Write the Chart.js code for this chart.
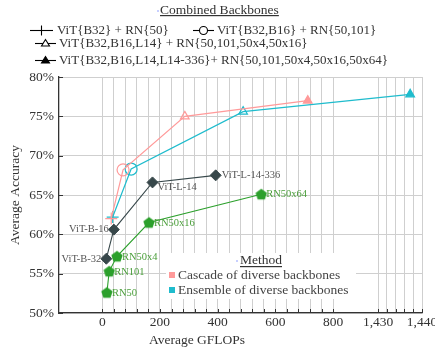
<!DOCTYPE html>
<html lang="en">
<head>
<meta charset="UTF-8">
<title>Combined Backbones</title>
<script src="https://cdn.jsdelivr.net/npm/chart.js"></script>
<style>
  html, body { margin: 0; padding: 0; background: #fff; }
  canvas { display: block; }
</style>
</head>
<body>
<canvas id="chart" width="435" height="347"></canvas>
<script>
// Individual backbones
const vitNames = ['ViT-B-32', 'ViT-B-16', 'ViT-L-14', 'ViT-L-14-336'];
const vitGflops = [14, 40, 174, 393];
const vitAcc = [56.9, 60.6, 66.6, 67.5];

const rnNames = ['RN50', 'RN101', 'RN50x4', 'RN50x16', 'RN50x64'];
const rnGflops = [16, 24, 51, 162, 551];
const rnAcc = [52.6, 55.3, 57.2, 61.5, 65.1];

// Combined backbones
const comboNames = [
  'ViT{B32} + RN{50}',
  'ViT{B32,B16} + RN{50,101}',
  'ViT{B32,B16,L14} + RN{50,101,50x4,50x16}',
  'ViT{B32,B16,L14,L14-336}+ RN{50,101,50x4,50x16,50x64}'
];
const cascadeGflops = [31, 72, 286, 712];
const cascadeAcc = [62.0, 68.2, 75.0, 77.0];
const ensembleGflops = [36, 100, 488, 1437.3];
const ensembleAcc = [62.2, 68.3, 75.6, 77.8];

// axis ticks (real GFLOPs); axis is broken between 800 and 1430
const xTickLabels = [0, 200, 400, 600, 800, 1430, 1440];
const yTicks = [50, 55, 60, 65, 70, 75, 80];

const BREAK_LO = 800, BREAK_HI = 1430, BREAK_POS = 956, STRETCH = 15.2;
function toAxis(x) { return x <= BREAK_LO ? x : BREAK_POS + (x - BREAK_HI) * STRETCH; }

const xGrid = [];
for (let g = 0; g <= 800; g += 40) xGrid.push(toAxis(g));
for (let g = 1430; g <= 1440; g += 2) xGrid.push(toAxis(g));

const pink = '#ff9a9a';
const cyan = '#1fbccd';
const dark = '#37474a';
const green = '#2ca02c';
const serif = '"Liberation Serif", "DejaVu Serif", serif';

function pentagon(r, color) {
  const c = document.createElement('canvas');
  c.width = c.height = r * 2 + 2;
  const g = c.getContext('2d');
  g.beginPath();
  for (let i = 0; i < 5; i++) {
    const a = -Math.PI / 2 + i * 2 * Math.PI / 5;
    const px = r + 1 + r * Math.cos(a), py = r + 1 + r * Math.sin(a) + 0.5;
    i ? g.lineTo(px, py) : g.moveTo(px, py);
  }
  g.closePath();
  g.fillStyle = color;
  g.fill();
  return c;
}
const pent = pentagon(6, green);

const pts = (xs, ys) => xs.map((x, i) => ({ x: toAxis(x), y: ys[i] }));
const comboStyles = ['cross', 'circle', 'triangle', 'triangle'];

const overlay = {
  id: 'overlay',
  afterDraw(chart) {
    const ctx = chart.ctx;
    const xs = chart.scales.x, ys = chart.scales.y;
    const area = chart.chartArea;
    ctx.save();

    // inner tick marks
    ctx.strokeStyle = '#333';
    ctx.lineWidth = 1;
    ctx.beginPath();
    xGrid.forEach(v => {
      const px = Math.round(xs.getPixelForValue(v)) + 0.5;
      ctx.moveTo(px, area.bottom); ctx.lineTo(px, area.bottom - 4);
    });
    yTicks.forEach(v => {
      const py = Math.round(ys.getPixelForValue(v)) + 0.5;
      ctx.moveTo(area.left, py); ctx.lineTo(area.left + 4, py);
    });
    ctx.stroke();

    // x tick labels
    ctx.fillStyle = '#333';
    ctx.font = '13.5px ' + serif;
    ctx.textAlign = 'center';
    ctx.textBaseline = 'middle';
    xTickLabels.forEach(v => {
      ctx.fillText(v.toLocaleString('en-US'), xs.getPixelForValue(toAxis(v)), area.bottom + 9);
    });
    ctx.fillText('Average GFLOPs', 197, 340);

    // point labels
    ctx.font = '10.5px ' + serif;
    ctx.fillStyle = '#555';
    const vitOff = [[-5, 1, 'right'], [-5, 0, 'right'], [5, 5, 'left'], [6, 0, 'left']];
    vitNames.forEach((n, i) => {
      ctx.textAlign = vitOff[i][2];
      ctx.fillText(n, xs.getPixelForValue(toAxis(vitGflops[i])) + vitOff[i][0], ys.getPixelForValue(vitAcc[i]) + vitOff[i][1]);
    });
    ctx.fillStyle = '#4a9e3a';
    ctx.textAlign = 'left';
    rnNames.forEach((n, i) => {
      ctx.fillText(n, xs.getPixelForValue(toAxis(rnGflops[i])) + 5, ys.getPixelForValue(rnAcc[i]) + 0.5);
    });

    // method legend
    ctx.fillStyle = '#fff';
    ctx.fillRect(166, 253, 190, 46);
    ctx.font = '13.5px ' + serif;
    ctx.fillStyle = '#333';
    ctx.textAlign = 'left';
    ctx.fillText('Method', 240, 260);
    let w = ctx.measureText('Method').width;
    ctx.fillRect(240, 266, w, 1.2);
    ctx.fillStyle = '#2040ff';
    ctx.fillRect(236.5, 260.5, 1, 1);
    [['Cascade of diverse backbones', pink, 275], ['Ensemble of diverse backbones', cyan, 290]].forEach(([t, c, y]) => {
      ctx.fillStyle = c;
      ctx.fillRect(169, y - 3, 6, 6);
      ctx.fillStyle = '#444';
      ctx.fillText(t, 178, y);
    });

    // combined backbones legend
    ctx.fillStyle = '#333';
    ctx.fillText('Combined Backbones', 160, 10);
    w = ctx.measureText('Combined Backbones').width;
    ctx.fillRect(160, 15, w, 1.2);
    ctx.fillStyle = '#2040ff';
    ctx.fillRect(157.5, 10.5, 1, 1);

    ctx.font = '13px ' + serif;
    const entries = [
      [30, 53, 30, 57],
      [193, 214, 30, 217],
      [35, 56, 43, 59],
      [35, 56, 60, 59]
    ];
    entries.forEach(([x0, x1, y, tx], i) => {
      ctx.strokeStyle = '#000';
      ctx.fillStyle = '#000';
      ctx.lineWidth = 1.1;
      ctx.beginPath();
      ctx.moveTo(x0, y + 0.5); ctx.lineTo(x1, y + 0.5);
      ctx.stroke();
      const cx = (x0 + x1) / 2;
      ctx.beginPath();
      if (i === 0) {
        ctx.moveTo(cx, y - 4.5); ctx.lineTo(cx, y + 5.5);
        ctx.stroke();
      } else if (i === 1) {
        ctx.fillStyle = '#fff';
        ctx.arc(cx, y + 0.5, 4, 0, Math.PI * 2);
        ctx.fill(); ctx.stroke();
      } else {
        ctx.moveTo(cx, y - 3.5); ctx.lineTo(cx + 4, y + 3); ctx.lineTo(cx - 4, y + 3); ctx.closePath();
        if (i === 2) { ctx.fillStyle = '#fff'; ctx.fill(); ctx.stroke(); }
        else { ctx.fill(); ctx.stroke(); }
      }
      ctx.fillStyle = '#333';
      ctx.fillText(comboNames[i], tx, y + 1);
    });
    ctx.restore();
  }
};

new Chart(document.getElementById('chart'), {
  type: 'scatter',
  data: {
    datasets: [
      {
        label: 'ViT',
        data: pts(vitGflops, vitAcc),
        showLine: true,
        borderColor: dark, backgroundColor: dark, borderWidth: 1.1,
        pointStyle: 'rectRot', pointRadius: 5.5, pointBorderWidth: 1,
        order: 4
      },
      {
        label: 'RN',
        data: pts(rnGflops, rnAcc),
        showLine: true,
        borderColor: green, backgroundColor: green, borderWidth: 1.1,
        pointStyle: pent, order: 3
      },
      {
        label: 'Ensemble of diverse backbones',
        data: pts(ensembleGflops, ensembleAcc),
        showLine: true,
        borderColor: cyan, borderWidth: 1.2,
        pointStyle: comboStyles,
        pointRadius: [6, 6, 5, 5],
        pointBorderColor: cyan,
        pointBackgroundColor: ['rgba(0,0,0,0)', 'rgba(0,0,0,0)', 'rgba(0,0,0,0)', cyan],
        pointBorderWidth: 1.2,
        order: 2
      },
      {
        label: 'Cascade of diverse backbones',
        data: pts(cascadeGflops, cascadeAcc),
        showLine: true,
        borderColor: pink, borderWidth: 1.2,
        pointStyle: comboStyles,
        pointRadius: [6, 6, 5, 5],
        pointBorderColor: pink,
        pointBackgroundColor: ['rgba(0,0,0,0)', 'rgba(0,0,0,0)', 'rgba(0,0,0,0)', pink],
        pointBorderWidth: 1.2,
        order: 1
      }
    ]
  },
  options: {
    responsive: false,
    animation: false,
    layout: { padding: { top: 77, right: 13, left: 0, bottom: 0 } },
    plugins: { legend: { display: false }, tooltip: { enabled: false } },
    scales: {
      x: {
        type: 'linear',
        min: -150,
        max: toAxis(1440),
        afterBuildTicks: s => { s.ticks = xGrid.map(v => ({ value: v })); },
        afterFit: s => { s.height = 34; },
        ticks: { display: false },
        grid: { color: '#cfcfcf', lineWidth: 1, drawTicks: false },
        border: { color: '#333', width: 1.3 }
      },
      y: {
        min: 50,
        max: 80,
        afterBuildTicks: s => { s.ticks = yTicks.map(v => ({ value: v })); },
        afterFit: s => { s.width = 59; },
        ticks: {
          callback: v => v + '%',
          font: { family: serif, size: 13.5 },
          color: '#333',
          padding: 5
        },
        grid: { color: '#cfcfcf', lineWidth: 1, drawTicks: false },
        border: { color: '#333', width: 1.3 },
        title: {
          display: true,
          text: 'Average Accuracy',
          font: { family: serif, size: 13.5 },
          color: '#333',
          padding: { top: 7, bottom: 0 }
        }
      }
    }
  },
  plugins: [overlay]
});
</script>
</body>
</html>
